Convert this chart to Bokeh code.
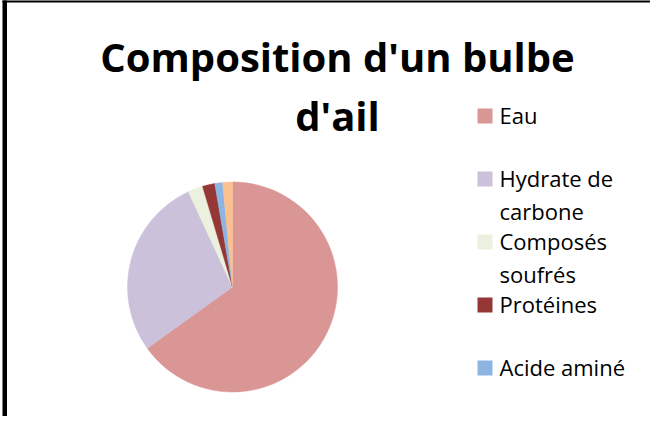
import math
from bokeh.plotting import figure
from bokeh.models import Range1d, BoxAnnotation, ColumnDataSource
from bokeh.core.properties import value
from bokeh.embed import file_html
from bokeh.resources import INLINE

# ---- data ----
title_lines = ["Composition d'un bulbe", "d'ail"]
categories = ["Eau", "Hydrate de\ncarbone", "Composés\nsoufrés", "Protéines", "Acide aminé", "Autres"]
values = [65.0, 28.0, 2.3, 1.9, 1.2, 1.5]
colors = ["#D99694", "#CCC1DA", "#EBF1DE", "#953735", "#8EB4E3", "#FAC090"]
legend_count = 5  # entries visible in the legend

W, H = 650, 416
PAGE_H = 432

def py(y):  # page y (downwards) -> data y
    return PAGE_H - y

p = figure(width=W, height=H, output_backend="svg", toolbar_location=None,
           x_range=Range1d(8, 8 + W), y_range=Range1d(PAGE_H - 8 - H, PAGE_H - 8),
           min_border=0, outline_line_color=None)
p.axis.visible = False
p.grid.visible = False
p.background_fill_color = "white"
p.border_fill_color = "white"

# frame border (left and top edges)
p.add_layout(BoxAnnotation(left=10, right=14.5, bottom=py(432), top=py(7),
                           fill_color="black", fill_alpha=1, line_color=None))
p.add_layout(BoxAnnotation(left=10, right=8 + W, bottom=py(10), top=py(7),
                           fill_color="black", fill_alpha=1, line_color=None))

# ---- pie ----
total = sum(values)
starts, ends = [], []
cum = 0.0
for v in values:
    a0 = math.pi / 2 - 2 * math.pi * cum / total
    cum += v
    a1 = math.pi / 2 - 2 * math.pi * cum / total
    starts.append(a1)
    ends.append(a0)

cx, cy, r = 240, py(294.5), 105
src = ColumnDataSource(dict(start=starts, end=ends, color=colors))
p.wedge(x=cx, y=cy, radius=r, start_angle="start", end_angle="end",
        fill_color="color", line_color="color", line_width=0.5, source=src)

# ---- title ----
for i, line in enumerate(title_lines):
    p.text(x=[345], y=[py(64 + 59 * i)], text=[line], text_align="center",
           text_baseline="alphabetic", text_font=value("Open Sans"),
           text_font_style="bold", text_font_size="40px", text_color="black")

# ---- legend ----
sq_x, sq_y, tx, ty = [], [], [], []
tl = []
for i in range(legend_count):
    base = 131 + 63 * i
    sq_x.append(492.5)
    sq_y.append(py(base - 7.5))
    for j, part in enumerate(categories[i].split("\n")):
        tx.append(507)
        ty.append(py(base - 9 + 33 * j))
        tl.append(part)

p.rect(x=sq_x, y=sq_y, width=15, height=15, width_units="screen", height_units="screen",
       fill_color=colors[:legend_count], line_color=None)
p.text(x=tx, y=ty, text=tl, text_align="left", text_baseline="alphabetic",
       text_font=value("Open Sans"), text_font_size="22px", text_color="black")

open("out.html", "w").write(file_html(p, INLINE))
